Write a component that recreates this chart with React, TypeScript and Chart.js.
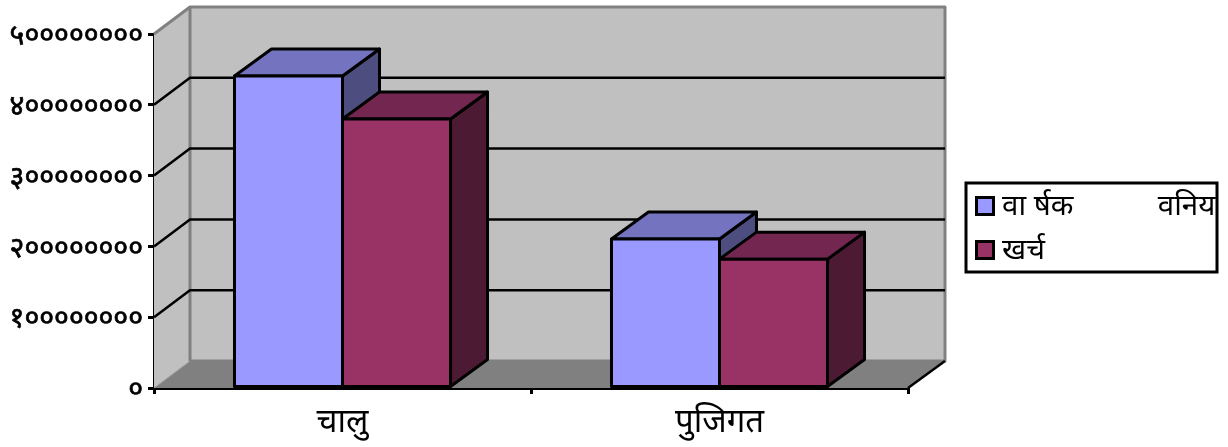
import React, { useEffect, useRef } from "react";
import { Chart, registerables } from "chart.js";

Chart.register(...registerables);

const categories = ["चालु", "पुजिगत"];
const annualBudget = [44070000, 21050000];
const expenditure = [38000000, 18200000];
const yTickLabels = ["०", "१००००००००", "२००००००००", "३००००००००", "४००००००००", "५००००००००"];
const seriesNames = ["वा र्षक           वनिय", "खर्च"];
const seriesColors = ["#9999FF", "#993366"];
const topColors = ["#7373BF", "#732650"];
const sideColors = ["#4D4D80", "#4D1A33"];

const FONT = '"Noto Sans", sans-serif';
const DX = 37;
const DY = 27;

function poly(ctx: CanvasRenderingContext2D, pts: number[][], fill: string | null, stroke: string | null, lw = 2) {
  ctx.beginPath();
  pts.forEach((p, i) => (i ? ctx.lineTo(p[0], p[1]) : ctx.moveTo(p[0], p[1])));
  ctx.closePath();
  if (fill) { ctx.fillStyle = fill; ctx.fill(); }
  if (stroke) { ctx.strokeStyle = stroke; ctx.lineWidth = lw; ctx.lineJoin = "round"; ctx.stroke(); }
}

function line(ctx: CanvasRenderingContext2D, pts: number[][], color: string, lw: number) {
  ctx.beginPath();
  pts.forEach((p, i) => (i ? ctx.lineTo(p[0], p[1]) : ctx.moveTo(p[0], p[1])));
  ctx.strokeStyle = color;
  ctx.lineWidth = lw;
  ctx.stroke();
}

const scene3d = {
  id: "scene3d",
  beforeDatasetsDraw(chart: any) {
    const ctx: CanvasRenderingContext2D = chart.ctx;
    const { left: l, right: r, top: t, bottom: b } = chart.chartArea;
    ctx.save();
    // Walls and floor
    poly(ctx, [[l, b], [l, t], [l + DX - 1, t - DY], [l + DX - 1, b - DY]], "#C0C0C0", null);
    poly(ctx, [[l + DX - 1, t - DY], [r + DX, t - DY], [r + DX, b - DY], [l + DX - 1, b - DY]], "#C0C0C0", "#808080", 3);
    poly(ctx, [[l, b], [l + DX - 1, b - DY], [r + DX, b - DY], [r, b]], "#808080", null);
    line(ctx, [[l, t], [l + DX - 1, t - DY]], "#808080", 3);
    line(ctx, [[l, b], [l + DX - 1, b - DY]], "#A0A0A0", 1);
    line(ctx, [[r, b], [r + DX, b - DY]], "#000000", 2.5);
    // Gridlines
    const ys = chart.scales.y;
    ys.ticks.forEach((tick: any) => {
      if (tick.value === 0 || tick.value === ys.max) return;
      const y = ys.getPixelForValue(tick.value);
      line(ctx, [[l, y], [l + DX - 1, y - DY], [r + DX, y - DY]], "#000000", 2.5);
    });
    // Bar tops and sides
    const n = chart.data.labels.length;
    for (let c = 0; c < n; c++) {
      chart.data.datasets.forEach((_: any, d: number) => {
        const bar = chart.getDatasetMeta(d).data[c];
        const x0 = bar.x - bar.width / 2;
        const x1 = bar.x + bar.width / 2;
        const top = bar.y;
        const base = bar.base;
        poly(ctx, [[x1, top], [x1 + DX, top - DY], [x1 + DX, base - DY], [x1, base]], sideColors[d], "#000000", 3);
        poly(ctx, [[x0, top], [x0 + DX, top - DY], [x1 + DX, top - DY], [x1, top]], topColors[d], "#000000", 3);
      });
    }
    ctx.restore();
  },
  afterDatasetsDraw(chart: any) {
    // Front-face outlines centred on the bar edges
    const ctx: CanvasRenderingContext2D = chart.ctx;
    ctx.save();
    ctx.strokeStyle = "#000000";
    ctx.lineWidth = 3;
    ctx.lineJoin = "round";
    chart.data.datasets.forEach((_: any, d: number) => {
      chart.getDatasetMeta(d).data.forEach((bar: any) => {
        ctx.strokeRect(bar.x - bar.width / 2, bar.y, bar.width, bar.base - bar.y);
      });
    });
    ctx.restore();
  },
  afterDraw(chart: any) {
    const ctx: CanvasRenderingContext2D = chart.ctx;
    ctx.save();
    const bx = 966, by = 183, bw = 251, bh = 89;
    ctx.fillStyle = "#FFFFFF";
    ctx.fillRect(bx, by, bw, bh);
    ctx.save();
    ctx.beginPath();
    ctx.rect(bx, by, bw, bh);
    ctx.clip();
    ctx.font = `29.5px ${FONT}`;
    ctx.textBaseline = "middle";
    ctx.textAlign = "left";
    seriesNames.forEach((name, i) => {
      const y = 206 + i * 44;
      ctx.fillStyle = seriesColors[i];
      ctx.strokeStyle = "#000000";
      ctx.lineWidth = 3;
      ctx.fillRect(976.5, y - 8.5, 17, 17);
      ctx.strokeRect(976.5, y - 8.5, 17, 17);
      ctx.fillStyle = "#000000";
      ctx.fillText(name, 1002, y + 1);
    });
    ctx.restore();
    ctx.strokeStyle = "#000000";
    ctx.lineWidth = 3;
    ctx.strokeRect(bx, by, bw, bh);
    ctx.restore();
  },
};

export default function App() {
  const ref = useRef<HTMLCanvasElement>(null);
  useEffect(() => {
    if (!ref.current) return;
    const chart = new Chart(ref.current, {
      type: "bar",
      data: {
        labels: categories,
        datasets: [annualBudget, expenditure].map((data, i) => ({
          label: seriesNames[i],
          data,
          backgroundColor: seriesColors[i],
          borderWidth: 0,
          categoryPercentage: 0.573,
          barPercentage: 1,
        })),
      },
      options: {
        animation: false,
        responsive: false,
        layout: { padding: { top: 34, right: 320, left: 0, bottom: 0 } },
        plugins: { legend: { display: false }, tooltip: { enabled: false }, title: { display: false } },
        scales: {
          x: {
            afterFit: (s: any) => { s.height = 59; },
            grid: { drawOnChartArea: false, drawTicks: true, tickLength: 6, color: "#000000", lineWidth: 3 },
            border: { display: true, color: "#000000", width: 3 },
            ticks: { color: "#000000", font: { family: FONT, size: 33 }, padding: 9, maxRotation: 0 },
          },
          y: {
            min: 0,
            max: 50000000,
            afterFit: (s: any) => { s.width = 154; },
            grid: { drawOnChartArea: false, drawTicks: true, tickLength: 6, color: "#000000", lineWidth: 3 },
            border: { display: true, color: "#000000", width: 3 },
            ticks: {
              stepSize: 10000000,
              color: "#000000",
              font: { family: FONT, size: 28.5 },
              textStrokeColor: "#000000",
              textStrokeWidth: 0.7,
              padding: 5,
              labelOffset: 2,
              callback: (_v: any, i: number) => yTickLabels[i],
            },
          },
        },
      },
      plugins: [scene3d],
    } as any);
    return () => chart.destroy();
  }, []);
  return (
    <div style={{ position: "absolute", left: 0, top: 0, width: 1228, height: 447 }}>
      <canvas ref={ref} width={1228} height={447} style={{ display: "block" }} />
    </div>
  );
}
